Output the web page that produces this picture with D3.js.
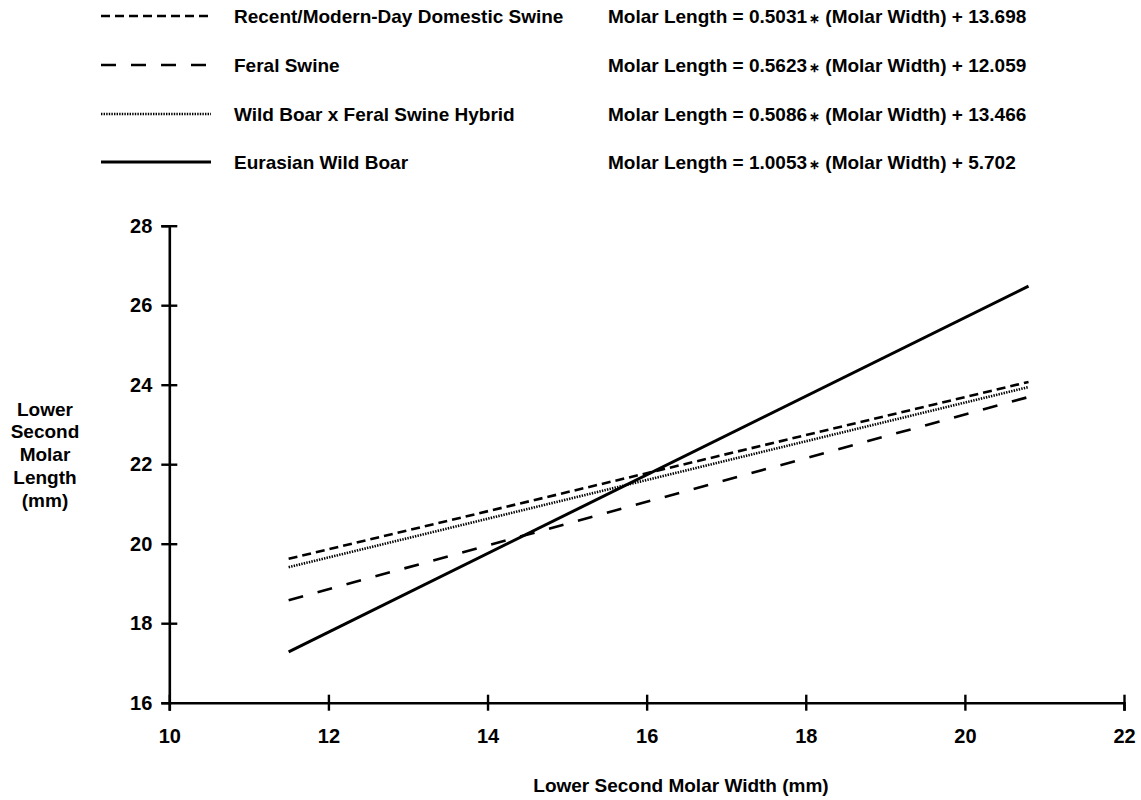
<!DOCTYPE html>
<html>
<head>
<meta charset="utf-8">
<script src="https://cdn.jsdelivr.net/npm/d3@7"></script>
<style>
  body { margin: 0; background: #fff; }
  svg text { font-family: "Liberation Sans", Arial, Helvetica, sans-serif; fill: #000; }
</style>
</head>
<body>
<div id="chart"></div>
<script>
// Data: start and end of each regression line
const seriesNames = [
    'Recent/Modern-Day Domestic Swine',
    'Feral Swine',
    'Wild Boar x Feral Swine Hybrid',
    'Eurasian Wild Boar'
];
const slopes = ['0.5031', '0.5623', '0.5086', '1.0053'];
const intercepts = ['13.698', '12.059', '13.466', '5.702'];
const widthRange = [11.5, 20.8];
const domesticLengths = [19.62, 24.07];
const feralLengths = [18.58, 23.69];
const hybridLengths = [19.41, 23.94];
const wildBoarLengths = [17.28, 26.48];
const xTicks = [10, 12, 14, 16, 18, 20, 22];
const yTicks = [16, 18, 20, 22, 24, 26, 28];

// Line styles
const STYLES = [
    { dash: '9,5', width: 2.6 },
    { dash: '15,15', width: 2.6 },
    { dash: '1.4,1.2', width: 2.6 },
    { dash: null, width: 3 }
];

const W = 1141, H = 800;
const margin = { left: 169.3, right: W - 1124, top: 225.7, bottom: H - 702.7 };

const svg = d3.select('#chart').append('svg')
    .attr('width', W)
    .attr('height', H);

const x = d3.scaleLinear().domain([10, 22]).range([margin.left, W - margin.right]);
const y = d3.scaleLinear().domain([16, 28]).range([H - margin.bottom, margin.top]);

// Axes with ticks crossing the axis line
const xAxis = svg.append('g')
    .attr('transform', `translate(0,${y(16)})`)
    .call(d3.axisBottom(x).tickValues(xTicks).tickSizeOuter(0).tickSize(8).tickPadding(18).tickFormat(d3.format('d')));
xAxis.selectAll('.tick line').attr('y1', -8).attr('y2', 8);

const yAxis = svg.append('g')
    .attr('transform', `translate(${x(10)},0)`)
    .call(d3.axisLeft(y).tickValues(yTicks).tickSizeOuter(0).tickSize(8).tickPadding(9).tickFormat(d3.format('d')));
yAxis.selectAll('.tick line').attr('x1', -8).attr('x2', 8);
// no tick crossing at origin
yAxis.selectAll('.tick').filter(d => d === 16).select('line').attr('x2', 0);

[xAxis, yAxis].forEach(a => {
    a.select('.domain').attr('stroke', '#000').attr('stroke-width', 2.6);
    a.selectAll('.tick line').attr('stroke', '#000').attr('stroke-width', 2.4);
    a.selectAll('.tick text')
        .style('font-size', '20px')
        .style('font-weight', 'bold')
        .attr('fill', '#000');
});

// Regression lines
const allLengths = [domesticLengths, feralLengths, hybridLengths, wildBoarLengths];
const line = d3.line().x(d => x(d[0])).y(d => y(d[1]));

allLengths.forEach((lens, i) => {
    const pts = widthRange.map((w, j) => [w, lens[j]]);
    svg.append('path')
        .datum(pts)
        .attr('d', line)
        .attr('fill', 'none')
        .attr('stroke', '#000')
        .attr('stroke-width', STYLES[i].width)
        .attr('stroke-dasharray', STYLES[i].dash);
});

// Legend
const legendY = [16, 65, 114, 162];
const legend = svg.append('g');
seriesNames.forEach((name, i) => {
    legend.append('line')
        .attr('x1', 101).attr('x2', 211)
        .attr('y1', legendY[i]).attr('y2', legendY[i])
        .attr('stroke', '#000')
        .attr('stroke-width', STYLES[i].width)
        .attr('stroke-dasharray', STYLES[i].dash);
    legend.append('text')
        .attr('x', 234).attr('y', legendY[i])
        .attr('dy', '0.35em')
        .style('font-size', '19px')
        .style('font-weight', 'bold')
        .text(name);
    const eq = legend.append('text')
        .attr('x', 608).attr('y', legendY[i])
        .attr('dy', '0.35em')
        .style('font-size', '19px')
        .style('font-weight', 'bold');
    eq.append('tspan').text(`Molar Length = ${slopes[i]}`);
    eq.append('tspan').style('font-size', '13px').attr('dx', 2).text('\u2217');
    eq.append('tspan').text(` (Molar Width) + ${intercepts[i]}`);
});

// Axis titles
svg.append('text')
    .attr('x', 681)
    .attr('y', 785)
    .attr('dy', '0.35em')
    .attr('text-anchor', 'middle')
    .style('font-size', '19px')
    .style('font-weight', 'bold')
    .text('Lower Second Molar Width (mm)');

const yTitle = ['Lower', 'Second', 'Molar', 'Length', '(mm)'];
svg.append('text')
    .attr('text-anchor', 'middle')
    .style('font-size', '19px')
    .style('font-weight', 'bold')
    .selectAll('tspan')
    .data(yTitle)
    .enter().append('tspan')
    .attr('x', 45)
    .attr('y', (d, i) => 409 + i * 22.8)
    .attr('dy', '0.35em')
    .text(d => d);
</script>
</body>
</html>
